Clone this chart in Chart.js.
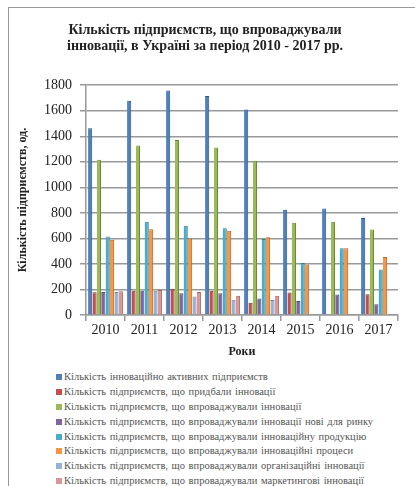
<!DOCTYPE html>
<html>
<head>
<meta charset="utf-8">
<script src="https://cdn.jsdelivr.net/npm/chart.js@4"></script>
<style>
  html, body { margin: 0; padding: 0; background: #fff; }
  #wrap { position: relative; width: 415px; height: 486px; overflow: hidden; }
  #frame { position: absolute; left: 8px; top: 7px; width: 420px; height: 490px;
           border-left: 1px solid #9a9a9a; border-top: 1px solid #9a9a9a; }
  #chart { position: absolute; left: 0; top: 0; }
  #legend { position: absolute; left: 56px; top: 370px;
            font-family: "Liberation Serif", "Times New Roman", serif; font-size: 10.5px; color: #555; word-spacing: 1px; }
  .item { height: 14.9px; line-height: 14.9px; white-space: nowrap; }
  .box { display: inline-block; width: 6px; height: 6px; margin-right: 2px; vertical-align: 0px; }
</style>
</head>
<body>
<div id="wrap">
  <div id="frame"></div>
  <canvas id="chart" width="415" height="370"></canvas>
  <div id="legend"></div>
</div>
<script>
const years = ['2010', '2011', '2012', '2013', '2014', '2015', '2016', '2017']
const yTicks = [0, 200, 400, 600, 800, 1000, 1200, 1400, 1600, 1800]

const seriesNames = [
  'Кількість інноваційно активних підприємств',
  'Кількість підприємств, що придбали інновації',
  'Кількість підприємств, що впроваджували інновації',
  'Кількість підприємств, що впроваджували інновації нові для ринку',
  'Кількість підприємств, що впроваджували інноваційну продукцію',
  'Кількість підприємств, що впроваджували інноваційні процеси',
  'Кількість підприємств, що впроваджували організаційні інновації',
  'Кількість підприємств, що впроваджували маркетингові інновації'
]

const activeData = [1462, 1679, 1758, 1715, 1609, 824, 834, 759]
const purchasedData = [178, 190, 205, 190, 96, 176, 0, 163]
const introducedData = [1217, 1327, 1371, 1312, 1208, 723, 731, 669]
const newMarketData = [180, 190, 170, 170, 130, 109, 160, 85]
const productData = [614, 730, 700, 680, 596, 407, 523, 357]
const processData = [590, 672, 600, 660, 609, 396, 523, 455]
const orgData = [180, 190, 145, 120, 117, 0, 0, 0]
const marketingData = [186, 195, 180, 150, 150, 0, 0, 0]

const allData = [activeData, purchasedData, introducedData, newMarketData,
  productData, processData, orgData, marketingData]

const fills = ['#4f81bd', '#c0504d', '#9bbb59', '#8064a2', '#4bacc6', '#f79646', '#95b3d7', '#d99694']
const edges = ['#2c5486', '#8b2d2a', '#6d8a35', '#59427a', '#2d7f97', '#b8661f', '#6a87b0', '#a86664']

const serif = '"Liberation Serif", "Times New Roman", serif'

const datasets = allData.map((d, i) => ({
  label: seriesNames[i],
  data: d,
  backgroundColor: fills[i],
  borderColor: edges[i],
  borderWidth: { left: 0, right: 1, top: 1, bottom: 0 },
  borderSkipped: 'bottom',
  categoryPercentage: 0.9,
  barPercentage: 0.95
}))

new Chart(document.getElementById('chart'), {
  type: 'bar',
  data: { labels: years, datasets: datasets },
  options: {
    responsive: false,
    animation: false,
    layout: { padding: { left: 12, right: 17, top: 10, bottom: 10 } },
    plugins: {
      legend: { display: false },
      tooltip: { enabled: false },
      title: {
        display: true,
        text: ['Кількість підприємств, що впроваджували', 'інновації, в Україні за період 2010 - 2017 рр.'],
        color: '#222',
        font: { family: serif, size: 14, weight: 'bold', lineHeight: 1.15 },
        padding: { top: 12, bottom: 31 }
      }
    },
    scales: {
      x: {
        grid: { drawOnChartArea: false, drawTicks: true, tickLength: 6, color: '#999', lineWidth: 1.5 },
        border: { color: '#999', width: 1.5 },
        ticks: { color: '#222', font: { family: serif, size: 14 }, padding: 1 },
        title: {
          display: true, text: 'Роки', color: '#222',
          font: { family: serif, size: 12, weight: 'bold' },
          padding: { top: 4, bottom: 1 }
        },
        afterFit: (scale) => { scale.height = 45 }
      },
      y: {
        min: 0,
        max: 1800,
        afterBuildTicks: (scale) => { scale.ticks = yTicks.map(v => ({ value: v })) },
        grid: { color: '#999', lineWidth: 1.5, tickLength: 6 },
        border: { color: '#999', width: 1.5 },
        ticks: {
          color: '#222', font: { family: serif, size: 14 }, padding: 8,
          callback: (v) => String(v)
        },
        title: {
          display: true, text: 'Кількість підприємств, од.', color: '#222',
          font: { family: serif, size: 12, weight: 'bold' },
          padding: { top: 4, bottom: 4 }
        },
        afterFit: (scale) => { scale.width = 74 }
      }
    }
  }
})

const legend = document.getElementById('legend')
seriesNames.forEach((name, i) => {
  const row = document.createElement('div')
  row.className = 'item'
  const box = document.createElement('span')
  box.className = 'box'
  box.style.background = fills[i]
  row.appendChild(box)
  row.appendChild(document.createTextNode(name))
  legend.appendChild(row)
})
</script>
</body>
</html>
